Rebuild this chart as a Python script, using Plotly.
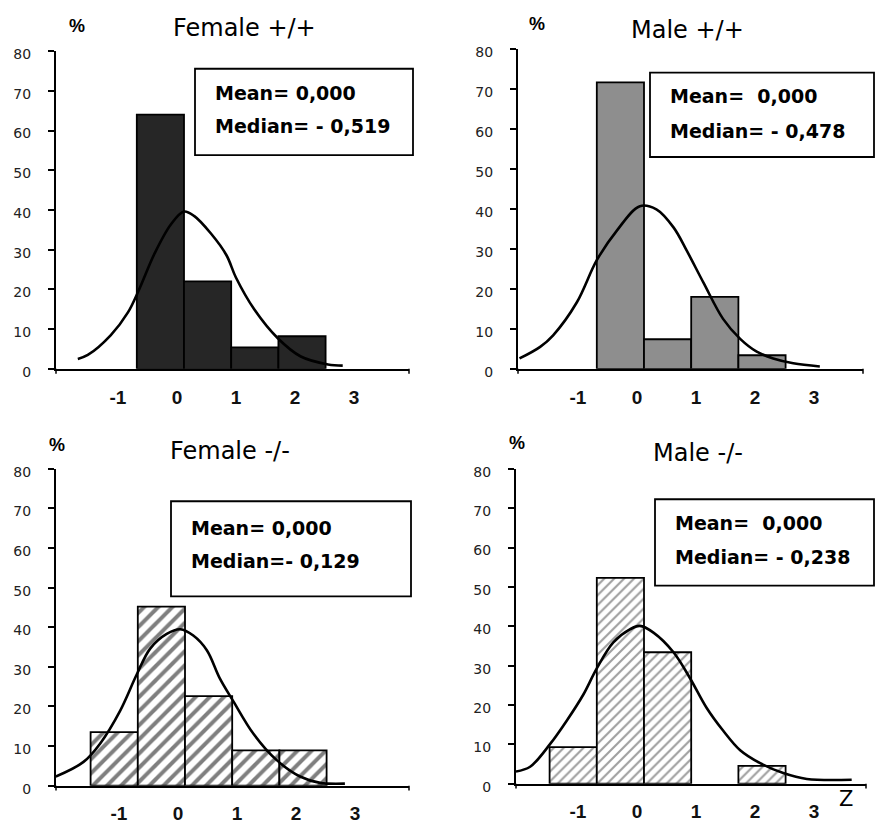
import plotly.graph_objects as go

W, H = 880, 829

# ---------------- data ----------------
bin_centers = [-1.2, -0.4, 0.4, 1.2, 2.0]
bin_width = 0.8
x_tick_vals = [-1, 0, 1, 2, 3]
x_tick_text = ["-1", "0", "1", "2", "3"]
y_tick_vals = [0, 10, 20, 30, 40, 50, 60, 70, 80]

female_pp = [None, 64.0, 22.0, 5.4, 8.2]
male_pp = [None, 71.7, 7.4, 18.0, 3.4]
female_mm = [13.5, 45.2, 22.6, 8.9, 8.9]
male_mm = [9.3, 52.3, 33.4, None, 4.5]

curve_fpp_x = [-1.80, -1.63, -1.24, -0.95, -0.76, -0.50, -0.22, 0.0, 0.17, 0.46, 0.72, 0.88, 1.19, 1.59, 1.98, 2.44, 2.69]
curve_fpp_y = [2.5, 3.5, 8.5, 14.2, 20.0, 29.0, 36.4, 39.6, 38.5, 34.0, 28.6, 23.0, 15.0, 7.7, 3.1, 1.1, 0.8]

curve_mpp_x = [-2.11, -1.76, -1.54, -1.14, -0.80, -0.46, -0.07, 0.21, 0.50, 0.72, 1.01, 1.34, 1.63, 1.91, 2.19, 2.53, 2.98]
curve_mpp_y = [2.6, 5.5, 8.4, 16.6, 27.2, 34.6, 40.7, 39.9, 35.4, 29.7, 21.5, 12.5, 7.5, 4.3, 2.6, 1.4, 0.6]

curve_fmm_x = [-2.19, -1.72, -1.44, -1.10, -0.82, -0.59, -0.31, -0.08, 0.14, 0.37, 0.59, 0.82, 1.16, 1.55, 1.95, 2.29, 2.71]
curve_fmm_y = [2.3, 6.0, 10.6, 18.9, 28.0, 34.6, 38.3, 39.5, 37.9, 34.2, 27.1, 21.3, 13.1, 6.5, 2.3, 0.7, 0.5]

curve_mmm_x = [-2.17, -1.93, -1.59, -1.31, -1.03, -0.80, -0.52, -0.24, -0.07, 0.16, 0.50, 0.78, 1.06, 1.34, 1.63, 1.97, 2.36, 2.76, 3.52]
curve_mmm_y = [3.1, 4.3, 10.1, 16.0, 22.6, 29.3, 35.9, 39.2, 40.1, 38.4, 33.4, 26.8, 19.3, 13.5, 8.5, 5.2, 2.7, 1.2, 1.0]

titles = ["Female +/+", "Male +/+", "Female -/-", "Male -/-"]
mean_texts = ["Mean= 0,000", "Mean=  0,000", "Mean= 0,000", "Mean=  0,000"]
median_texts = ["Median= - 0,519", "Median= - 0,478", "Median=- 0,129", "Median= - 0,238"]
y_unit_label = "%"
x_unit_label = "Z"

# ---------------- layout geometry (pixels) ----------------
UNIT = 59.0  # px per z unit
panels = [
    dict(bars=female_pp, cx=curve_fpp_x, cy=curve_fpp_y, left=56, right=409, zero=184, bottom=371, top=47,
         color="#262626", pattern=None,
         title_xy=(245, 23), pct_xy=(77, 21), box=(195, 65, 413, 153), txt_x=213, txt_y=(90, 123)),
    dict(bars=male_pp, cx=curve_mpp_x, cy=curve_mpp_y, left=518, right=863, zero=644, bottom=371, top=45,
         color="#8e8e8e", pattern=None,
         title_xy=(687, 26), pct_xy=(537, 19), box=(650, 69, 874, 155), txt_x=668, txt_y=(93, 128)),
    dict(bars=female_mm, cx=curve_fmm_x, cy=curve_fmm_y, left=56, right=409, zero=185, bottom=796, top=473,
         color="white", pattern=dict(shape="/", fgcolor="black", bgcolor="white", size=10, solidity=0.4),
         title_xy=(230, 455), pct_xy=(57, 449), box=(171, 506, 411, 603), txt_x=189, txt_y=(533, 567)),
    dict(bars=male_mm, cx=curve_mmm_x, cy=curve_mmm_y, left=516, right=866, zero=644, bottom=794, top=473,
         color="white", pattern=dict(shape="/", fgcolor="#404040", bgcolor="white", size=7, solidity=0.3),
         title_xy=(698, 457), pct_xy=(517, 447), box=(655, 504, 874, 592), txt_x=673, txt_y=(528, 563)),
]

def px(x):
    return x / W

def py(y):
    return 1 - y / H

fig = go.Figure()
annotations = []
shapes = []

for i, p in enumerate(panels):
    n = "" if i == 0 else str(i + 1)
    xa, ya = "x" + n, "y" + n
    bar_kw = dict(color=p["color"], line=dict(color="black", width=1.8))
    if p["pattern"]:
        bar_kw["pattern"] = p["pattern"]
    fig.add_trace(go.Bar(x=bin_centers, y=p["bars"], width=bin_width, marker=bar_kw,
                         xaxis=xa, yaxis=ya, showlegend=False))
    fig.add_trace(go.Scatter(x=p["cx"], y=p["cy"], mode="lines",
                             line=dict(color="black", width=2.6, shape="spline", smoothing=1.0),
                             xaxis=xa, yaxis=ya, showlegend=False, cliponaxis=False))
    xr = [(p["left"] - p["zero"]) / UNIT, (p["right"] - p["zero"]) / UNIT]
    fig.update_layout(**{
        "xaxis" + n: dict(domain=[px(p["left"]), px(p["right"])], range=xr, anchor=ya,
                          showline=True, linecolor="black", linewidth=2, showgrid=False, zeroline=False,
                          tickmode="array", tickvals=x_tick_vals, ticktext=x_tick_text, ticks="",
                          tickfont=dict(family="Liberation Sans, Arial", size=19, color="#111", weight="bold"),
                          ticklabelstandoff=10, ticklabelshift=-7, fixedrange=True),
        "yaxis" + n: dict(domain=[py(p["bottom"]), py(p["top"])], range=[0, 80], anchor=xa,
                          showline=True, linecolor="black", linewidth=2, showgrid=False, zeroline=False,
                          tickmode="array", tickvals=y_tick_vals, ticks="outside", ticklen=6,
                          tickwidth=1.5, tickcolor="black",
                          tickfont=dict(family="DejaVu Sans", size=14, color="#222"),
                          ticklabelstandoff=14, ticklabelshift=3, fixedrange=True),
    })
    # small end ticks below the x axis line
    for xe in (p["left"], p["right"]):
        shapes.append(dict(type="line", xref="paper", yref="paper", x0=px(xe), x1=px(xe),
                           y0=py(p["bottom"]), y1=py(p["bottom"] + 5), line=dict(color="black", width=1.5)))
    tx, ty = p["title_xy"]
    annotations.append(dict(text=titles[i], x=px(tx), y=py(ty), xref="paper", yref="paper",
                            xanchor="center", yanchor="middle", showarrow=False,
                            font=dict(family="DejaVu Sans", size=24, color="black")))
    cx, cy = p["pct_xy"]
    annotations.append(dict(text="<b>" + y_unit_label + "</b>", x=px(cx), y=py(cy), xref="paper", yref="paper",
                            xanchor="center", yanchor="middle", showarrow=False,
                            font=dict(family="Liberation Sans, Arial", size=18, color="black")))
    x0, y0, x1, y1 = p["box"]
    shapes.append(dict(type="rect", xref="paper", yref="paper", x0=px(x0), x1=px(x1), y0=py(y0), y1=py(y1),
                       line=dict(color="black", width=1.8), fillcolor="white", layer="above"))
    for t, yy in zip([mean_texts[i], median_texts[i]], p["txt_y"]):
        annotations.append(dict(text="<b>" + t + "</b>", x=px(p["txt_x"]), y=py(yy), xref="paper", yref="paper",
                                xanchor="left", yanchor="middle", showarrow=False,
                                font=dict(family="DejaVu Sans", size=19, color="black")))

annotations.append(dict(text=x_unit_label, x=px(846), y=py(810), xref="paper", yref="paper",
                        xanchor="center", yanchor="middle", showarrow=False,
                        font=dict(family="DejaVu Sans", size=21, color="black")))

fig.update_layout(width=W, height=H, margin=dict(l=0, r=0, t=0, b=0),
                  paper_bgcolor="white", plot_bgcolor="white",
                  annotations=annotations, shapes=shapes, barmode="overlay")

fig.write_html("out.html", config={"displayModeBar": False})
